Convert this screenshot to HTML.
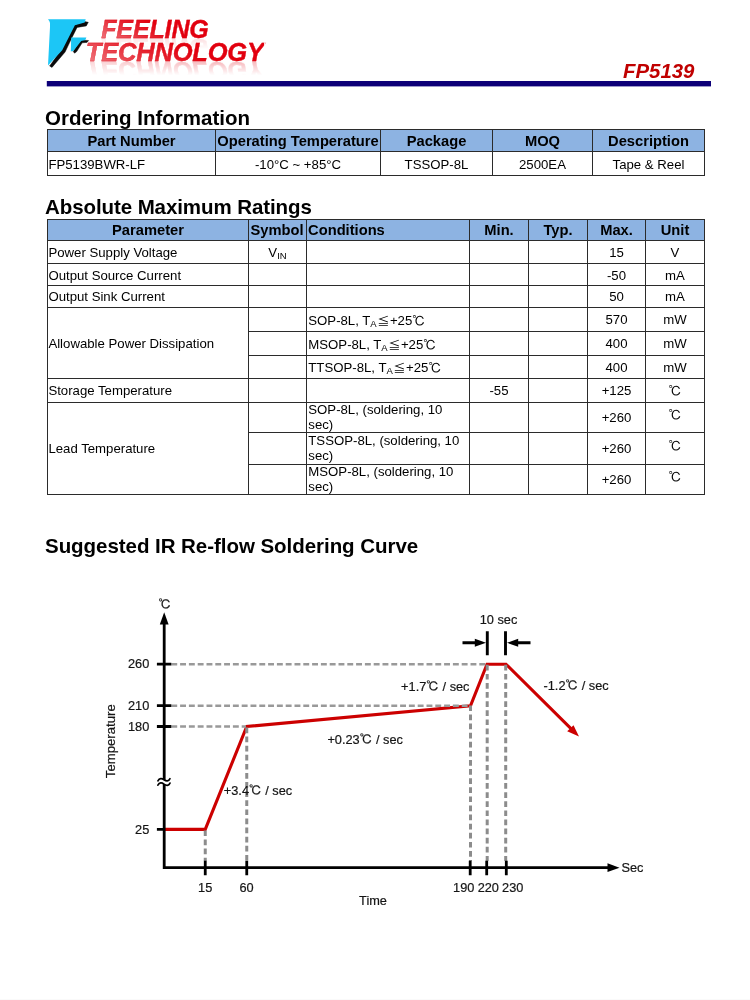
<!DOCTYPE html>
<html lang="en">
<head>
<meta charset="utf-8">
<title>FP5139 - Ordering Information</title>
<style>
  html, body { margin: 0; padding: 0; background: #fff; }
  body { width: 750px; height: 1000px; position: relative; overflow: hidden;
         font-family: "Liberation Sans", "IPAGothic", sans-serif; color: #000; }
  .edge { position: absolute; left: 0; top: 999px; width: 750px; height: 1px; background: #fafafa; }

  /* header */
  .logo-icon { position: absolute; left: 40px; top: 10px; width: 60px; height: 70px; }
  .brand { position: absolute; font-weight: bold; font-style: italic; font-size: 25.5px; line-height: 25px;
           white-space: nowrap; letter-spacing: -0.2px;
           background: linear-gradient(25deg, rgba(255,255,255,0.5) 0%, rgba(255,255,255,0.16) 35%, rgba(255,255,255,0) 58%), #e2000f;
           -webkit-background-clip: text; background-clip: text; color: transparent;
           -webkit-text-fill-color: transparent; -webkit-text-stroke: 0.3px rgba(226,0,15,0.55);
           -webkit-box-reflect: below -7.2px linear-gradient(to top, rgba(255,255,255,0.28) 15%, rgba(255,255,255,0) 70%); }
  #brand1 { left: 101.2px; top: 16.7px; font-size: 25px; letter-spacing: -0.12px;
            -webkit-box-reflect: below -7.2px linear-gradient(to top, rgba(255,255,255,0.13) 15%, rgba(255,255,255,0) 60%); }
  #brand2 { left: 85.8px; top: 40.3px; letter-spacing: -0.2px; }
  .partno { position: absolute; right: 55.6px; top: 60.4px; font-weight: bold; font-style: italic;
            font-size: 20.4px; line-height: 22px; color: #c00000; white-space: nowrap; }
  .rule { position: absolute; left: 0; top: 78px; width: 750px; height: 12px; }

  h2 { position: absolute; margin: 0; font-weight: bold; font-size: 20.5px; line-height: 24px; white-space: nowrap; left: 45px; }
  #h-order { top: 106px; }
  #h-abs   { top: 195px; letter-spacing: -0.085px; }
  #h-curve { top: 534px; letter-spacing: -0.045px; }

  table { position: absolute; border-collapse: collapse; table-layout: fixed; border-spacing: 0; }
  th, td { border: 1px solid #2b2b2b; padding: 0; overflow: hidden; white-space: nowrap; box-sizing: border-box; }
  th { background: #8db3e2; font-weight: bold; font-size: 14.7px; text-align: center; vertical-align: middle; }
  td { font-size: 13.2px; text-align: center; vertical-align: middle; }
  td.l { text-align: left; padding-left: 0.4px; }
  th.l { text-align: left; padding-left: 1.1px; }
  td.c3 { padding-left: 1.3px; }
  td.dn { padding-top: 1px; }
  tr.d1 td { padding-top: 2px; }
  .g { position: relative; top: 1px; }
  td.wrap { white-space: normal; vertical-align: top; }
  td.wrap div { height: 28px; line-height: 15.2px; position: relative; top: -1px; }
  sub.s { font-size: 9.5px; vertical-align: baseline; position: relative; top: 2px; }

  #t-order { left: 47px; top: 129px; width: 657px; }
  #t-abs   { left: 47px; top: 219px; width: 657px; }

  #chart { position: absolute; left: 0; top: 580px; width: 750px; height: 340px; }
  #chart text { font-family: "Liberation Sans", "IPAGothic", sans-serif; font-size: 12.75px; fill: #151515; stroke: #151515; stroke-width: 0.2px; }
</style>
</head>
<body>

<!-- Header / logo -->
<svg class="logo-icon" viewBox="40 10 60 70" aria-hidden="true">
  <g fill="#0a0a0a" stroke="#0a0a0a" stroke-width="0.45" stroke-linejoin="round">
    <path d="M88.3 22.3 L86.3 25.9 L77.1 27.4 L71.3 39 L65.1 52 L52 67.4 L49.6 66 L61 50 L74 25 L84.7 21.6 Z"/>
    <path d="M88.6 40.5 L87 42.4 L82.2 42.8 L76.7 51.6 L74.6 53.2 L73.2 51.6 L80.6 40 Z"/>
  </g>
  <g fill="#1cc6f6">
    <path d="M48 19.2 L85.7 19.2 L84.7 22.5 L74.9 25.2 L62.2 50.2 L48 65.6 L50 27 L50 23 Q49.6 20.6 48 19.2 Z"/>
    <path d="M71.2 37.5 L86.4 37.5 L85.3 40 L81.2 41 L73.5 50.7 L70.8 51.4 Z"/>
  </g>
</svg>
<div class="brand" id="brand1">FEELING</div>
<div class="brand" id="brand2">TECHNOLOGY</div>
<div class="partno">FP5139</div>
<svg class="rule" viewBox="0 78 750 12" aria-hidden="true"><rect x="46.8" y="81" width="664.2" height="5.4" fill="#0d0078"/></svg>

<!-- Ordering Information -->
<h2 id="h-order">Ordering Information</h2>
<table id="t-order">
  <colgroup><col style="width:168px"><col style="width:165px"><col style="width:112px"><col style="width:100px"><col style="width:112px"></colgroup>
  <tr style="height:22px"><th>Part Number</th><th>Operating Temperature</th><th>Package</th><th>MOQ</th><th>Description</th></tr>
  <tr class="d1" style="height:24px"><td class="l">FP5139BWR-LF</td><td>-10°C ~ +85°C</td><td>TSSOP-8L</td><td>2500EA</td><td>Tape &amp; Reel</td></tr>
</table>

<!-- Absolute Maximum Ratings -->
<h2 id="h-abs">Absolute Maximum Ratings</h2>
<table id="t-abs">
  <colgroup><col style="width:201px"><col style="width:58px"><col style="width:163px"><col style="width:59px"><col style="width:59px"><col style="width:58px"><col style="width:59px"></colgroup>
  <tr style="height:21px"><th>Parameter</th><th style="padding-right:1px">Symbol</th><th class="l">Conditions</th><th>Min.</th><th>Typ.</th><th>Max.</th><th>Unit</th></tr>
  <tr style="height:23px"><td class="l">Power Supply Voltage</td><td>V<sub class="s">IN</sub></td><td></td><td></td><td></td><td>15</td><td>V</td></tr>
  <tr class="d1" style="height:22px"><td class="l">Output Source Current</td><td></td><td></td><td></td><td></td><td>-50</td><td>mA</td></tr>
  <tr style="height:22px"><td class="l">Output Sink Current</td><td></td><td></td><td></td><td></td><td>50</td><td>mA</td></tr>
  <tr style="height:24px"><td class="l" rowspan="3">Allowable Power Dissipation</td><td></td><td class="l c3 dn">SOP-8L, T<sub class="s">A</sub><span class="g">≦</span>+25<span class="g">℃</span></td><td></td><td></td><td>570</td><td>mW</td></tr>
  <tr style="height:24px"><td></td><td class="l c3 dn">MSOP-8L, T<sub class="s">A</sub><span class="g">≦</span>+25<span class="g">℃</span></td><td></td><td></td><td>400</td><td>mW</td></tr>
  <tr style="height:23px"><td></td><td class="l c3 dn">TTSOP-8L, T<sub class="s">A</sub><span class="g">≦</span>+25<span class="g">℃</span></td><td></td><td></td><td>400</td><td>mW</td></tr>
  <tr style="height:24px"><td class="l">Storage Temperature</td><td></td><td></td><td>-55</td><td></td><td>+125</td><td><span class="g">℃</span></td></tr>
  <tr style="height:30px"><td class="l" rowspan="3">Lead Temperature</td><td></td><td class="l c3 wrap"><div>SOP-8L, (soldering, 10 sec)</div></td><td></td><td></td><td>+260</td><td><span class="g" style="top:-2.5px">℃</span></td></tr>
  <tr style="height:32px"><td></td><td class="l c3 wrap"><div style="top:0">TSSOP-8L, (soldering, 10 sec)</div></td><td></td><td></td><td>+260</td><td><span class="g" style="top:-2.5px">℃</span></td></tr>
  <tr style="height:30px"><td></td><td class="l c3 wrap"><div>MSOP-8L, (soldering, 10 sec)</div></td><td></td><td></td><td>+260</td><td><span class="g" style="top:-2.5px">℃</span></td></tr>
</table>

<!-- Curve -->
<h2 id="h-curve">Suggested IR Re-flow Soldering Curve</h2>
<svg id="chart" viewBox="0 580 750 340">
  <!-- profile -->
  <path d="M164 829.4 H205.25 L246.75 726.5 L470.5 705.7 L487 664.2 H506 L573 730.6" stroke="#cc0000" stroke-width="3.1" fill="none" stroke-linejoin="miter"/>
  <path d="M579 736.6 L567.2 731.2 L573.5 725.2 Z" fill="#cc0000"/>
  <!-- dashed guides -->
  <g stroke="#999" stroke-width="2.5" stroke-dasharray="5.9 2.9" fill="none">
    <path d="M171.3 664.2 H486"/>
    <path d="M171.3 705.7 H470"/>
    <path d="M171.3 726.5 H246"/>
  </g>
  <g stroke="#8c8c8c" stroke-width="3" stroke-dasharray="5.7 3.4" fill="none">
    <path d="M205.25 830.4 V861"/>
    <path d="M246.75 727.5 V861"/>
    <path d="M470.5 705.4 V861"/>
    <path d="M487.2 664.8 V861"/>
    <path d="M505.7 664.8 V861"/>
  </g>
  <!-- axes -->
  <g stroke="#000" stroke-width="2.8" fill="none">
    <path d="M164.2 622 V867.7 H610"/>
    <path d="M156.9 664.2 H171.3 M156.9 705.7 H171.3 M156.9 726.5 H171.3 M156.9 829.4 H164"/>
    <path d="M205.25 860.8 V875.2 M246.75 860.8 V875.2 M470.2 860.8 V875.2 M486.7 860.8 V875.2 M506.3 860.8 V875.2"/>
  </g>
  <path d="M164.2 612.3 L168.6 624.5 L159.8 624.5 Z" fill="#000"/>
  <path d="M619.5 867.7 L607.5 872.1 L607.5 863.3 Z" fill="#000"/>
  <!-- axis break -->
  <path d="M157.9 783.0 C159.4 780.1 161.8 780.3 164 781.9 S168.6 783.8 170 780.9" stroke="#fff" stroke-width="3.2" fill="none" stroke-linecap="butt"/>
  <g stroke="#000" stroke-width="1.7" fill="none" stroke-linecap="round">
    <path d="M157.9 780.8 C159.4 777.9 161.8 778.1 164 779.7 S168.6 781.6 170 778.7"/>
    <path d="M157.9 785.2 C159.4 782.3 161.8 782.5 164 784.1 S168.6 786.0 170 783.1"/>
  </g>
  <!-- 10 sec marker -->
  <g stroke="#000" stroke-width="2.9" fill="none">
    <path d="M487.3 631.2 V655.2 M505.5 631.2 V655.2"/>
    <path d="M462.5 642.8 H477 M530.5 642.8 H516"/>
  </g>
  <path d="M486 642.8 L474.8 646.8 L474.8 638.8 Z" fill="#000"/>
  <path d="M507 642.8 L518.2 646.8 L518.2 638.8 Z" fill="#000"/>
  <!-- labels -->
  <text x="164.9" y="608.5" text-anchor="middle">℃</text>
  <text x="149.3" y="668.3" text-anchor="end">260</text>
  <text x="149.3" y="709.7" text-anchor="end">210</text>
  <text x="149.3" y="730.5" text-anchor="end">180</text>
  <text x="149.3" y="833.6" text-anchor="end">25</text>
  <text x="205.2" y="891.5" text-anchor="middle">15</text>
  <text x="246.5" y="891.5" text-anchor="middle">60</text>
  <text x="463.7" y="891.5" text-anchor="middle">190</text>
  <text x="488.3" y="891.5" text-anchor="middle">220</text>
  <text x="512.7" y="891.5" text-anchor="middle">230</text>
  <text x="621.5" y="872" text-anchor="start">Sec</text>
  <text x="373" y="905" text-anchor="middle">Time</text>
  <text x="498.5" y="624" text-anchor="middle">10 sec</text>
  <text x="469.5" y="690.5" text-anchor="end">+1.7℃ / sec</text>
  <text x="543.5" y="689.5" text-anchor="start">-1.2℃ / sec</text>
  <text x="327.4" y="743.5" text-anchor="start">+0.23℃ / sec</text>
  <text x="223.8" y="794.6" text-anchor="start">+3.4℃ / sec</text>
  <text transform="translate(114.8 741.2) rotate(-90)" text-anchor="middle" style="font-size:13.2px">Temperature</text>
</svg>
<div class="edge"></div>

</body>
</html>
